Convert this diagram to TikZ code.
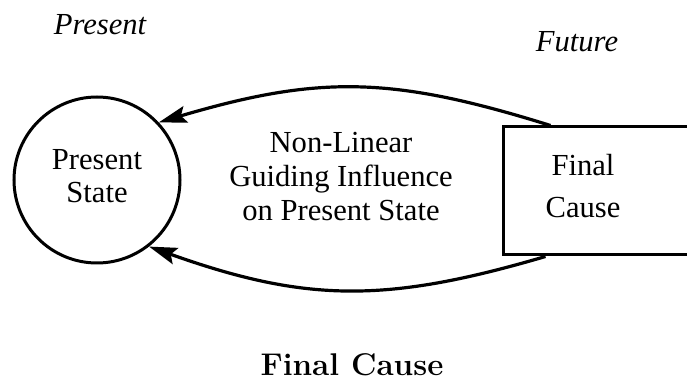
\documentclass[tikz,border=0pt]{standalone}
\usepackage{fontspec}
\newfontfamily\tms{Liberation Serif}
\usetikzlibrary{arrows.meta}
\begin{document}
\begin{tikzpicture}[x=0.5pt,y=-0.5pt,
  lbl/.style={font=\tms\fontsize{15.3pt}{17pt}\selectfont, align=center, inner sep=0pt},
  statenode/.style={circle, draw, line width=1.5pt, minimum size=83pt, inner sep=0pt},
  causebox/.style={rectangle, draw, line width=1.5pt, minimum width=108.5pt, minimum height=64pt, inner sep=0pt},
  influence/.style={line width=1.6pt, -{Stealth[length=14pt,width=8.5pt,inset=2.5pt]}}
]
\useasboundingbox (0,0) rectangle (687,379);

% time labels
\node[lbl, font=\tms\itshape\fontsize{15.3pt}{17pt}\selectfont] (present) at (100,25) {Present};
\node[lbl, font=\tms\itshape\fontsize{15.3pt}{17pt}\selectfont] (future) at (577,42) {Future};

% present state and final cause
\node[statenode] (ps) at (97,180) {};
\node[lbl, font=\tms\fontsize{15.3pt}{16.5pt}\selectfont] (pstext) at (97,176) {Present\\State};
\node[causebox] (fc) at (611.5,191) {};
\node[lbl, font=\tms\fontsize{15.3pt}{21pt}\selectfont] (fctext) at (583,186) {Final\\Cause};

% guiding influence
\node[lbl, font=\tms\fontsize{15.3pt}{17pt}\selectfont] (infl) at (341,177) {Non-Linear\\Guiding Influence\\on Present State};

\draw[influence] ([xshift=24.5pt]fc.north west) .. controls (392,76) and (319,75) .. (ps.43);
\draw[influence] ([xshift=22pt]fc.south west) .. controls (387,303) and (307,303) .. (ps.-52);

% caption
\node[font=\bfseries\fontsize{15.7pt}{18pt}\selectfont, inner sep=0pt] (caption) at (352,365) {Final Cause};
\end{tikzpicture}
\end{document}
